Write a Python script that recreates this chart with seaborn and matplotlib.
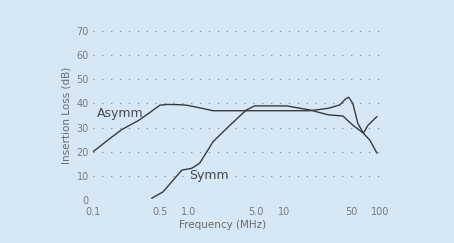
import matplotlib
matplotlib.use("Agg")
import pandas as pd
import seaborn as sns
import matplotlib.pyplot as plt

# Data (frequency in MHz, insertion loss in dB)
asymm_freq = [0.1, 0.15, 0.2, 0.3, 0.4, 0.5, 0.6, 0.8, 0.95, 1.3, 1.8, 3.0, 5.0, 10, 18.5, 28.8, 38, 44, 47, 52, 58.6, 67, 75, 93]
asymm_db = [20, 25.5, 29.2, 33.0, 36.5, 39.3, 39.6, 39.5, 39.3, 38.2, 37.0, 37.0, 37.0, 37.0, 37.0, 38.0, 39.4, 42.0, 42.6, 40.0, 31.8, 27.7, 31.0, 34.6]

symm_freq = [0.41, 0.54, 0.69, 0.85, 1.07, 1.3, 1.8, 2.7, 4.0, 4.9, 7.0, 10.6, 18.5, 28.8, 41, 52, 67, 78, 93]
symm_db = [0.7, 3.4, 8.3, 12.4, 13.1, 15.2, 24.2, 31.0, 37.3, 39.0, 39.0, 39.0, 37.3, 35.3, 34.8, 31.0, 27.7, 24.9, 19.4]

x_ticks = [0.1, 0.5, 1.0, 5.0, 10, 50, 100]
x_tick_labels = ["0.1", "0.5", "1.0", "5.0", "10", "50", "100"]
y_ticks = [0, 10, 20, 30, 40, 50, 60, 70]

df = pd.concat([
    pd.DataFrame({"freq": asymm_freq, "loss": asymm_db, "curve": "Asymm"}),
    pd.DataFrame({"freq": symm_freq, "loss": symm_db, "curve": "Symm"}),
])

bg = "#d6e8f6"
sns.set_style("white")
fig = plt.figure(figsize=(4.54, 2.43), dpi=100, facecolor=bg)
ax = fig.add_axes([0.205, 0.177, 0.632, 0.695], facecolor=bg)

sns.lineplot(data=df, x="freq", y="loss", units="curve", estimator=None,
             color="#3a3a3a", linewidth=1.0, sort=False, ax=ax)

ax.set_xscale("log")
ax.set_xlim(0.1, 100)
ax.set_ylim(0, 70)

# sparse dotted horizontal grid like the scan
for y in y_ticks:
    ax.axhline(y, color="#808080", linewidth=0.8, linestyle=(0, (1, 7)), zorder=0)

ax.set_xticks(x_ticks)
ax.set_xticklabels(x_tick_labels)
ax.minorticks_off()
ax.set_yticks(y_ticks)
ax.tick_params(axis="both", length=0, labelsize=7, colors="#7a7a7a")
ax.tick_params(axis="x", pad=5)
ax.tick_params(axis="y", pad=3)

for s in ax.spines.values():
    s.set_visible(False)

ax.set_xlabel("Frequency (MHz)", fontsize=7.5, color="#6a6a6a")
ax.set_ylabel("Insertion Loss (dB)", fontsize=7.5, color="#6a6a6a")
ax.xaxis.set_label_coords(0.45, -0.12)
ax.yaxis.set_label_coords(-0.075, 0.5)

ax.text(0.11, 36, "Asymm", fontsize=9, color="#4a4a4a", va="center", ha="left")
ax.text(1.0, 10, "Symm", fontsize=9, color="#4a4a4a", va="center", ha="left")

if ax.legend_:
    ax.legend_.remove()
fig.savefig("out.png", dpi=100, facecolor=bg)
